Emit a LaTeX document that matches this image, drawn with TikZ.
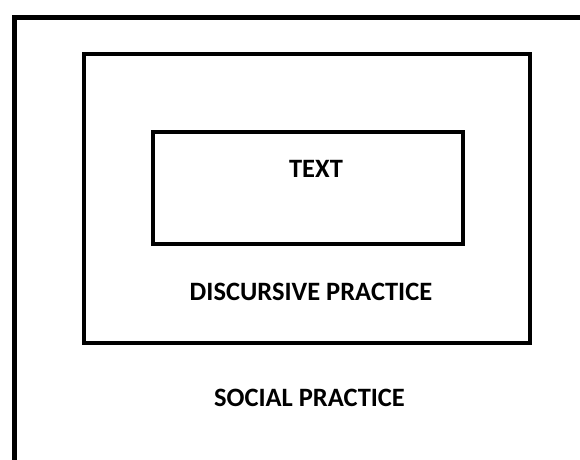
\documentclass[tikz,border=0pt]{standalone}
\usepackage{fontspec}
\setmainfont{Carlito}
\usetikzlibrary{positioning}
\tikzset{
    framebox/.style={rectangle, draw, inner sep=0pt, line width=4pt},
    outerframe/.style={rectangle, draw, inner sep=0pt, line width=5.5pt, anchor=north west},
    caption/.style={font=\fontsize{26.5}{30}\selectfont\bfseries, anchor=base, inner sep=0pt},
}

\begin{document}
\begin{tikzpicture}[x=1pt, y=-1pt]
        \useasboundingbox (0,0) rectangle (580,459);
        \clip (0,0) rectangle (580,459);
        % Frames
        \node [outerframe, minimum width=620pt, minimum height=500pt] (social) at (11.5,14.5) {};
        \node [framebox, minimum width=446pt, minimum height=289pt] (discursive) at (307,198.5) {};
        \node [framebox, minimum width=310pt, minimum height=112pt] (text) at (308,188) {};

        % Labels
        \node [caption] (textlbl) at (316,177) {TEXT};
        \node [caption] (discursivelbl) at (311,300) {DISCURSIVE PRACTICE};
        \node [caption] (sociallbl) at (309.5,406) {SOCIAL PRACTICE};
    \end{tikzpicture}
\end{document}
